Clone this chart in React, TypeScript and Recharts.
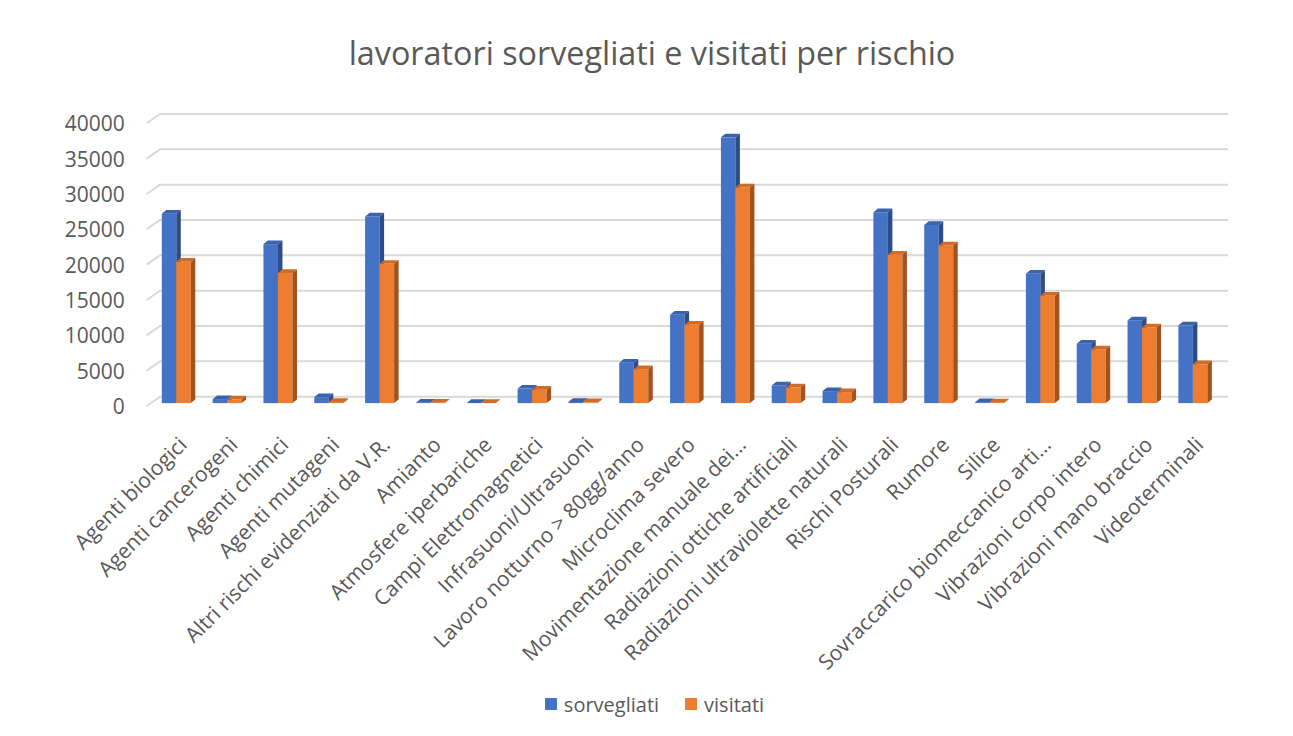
import React from 'react';
import { BarChart, Bar, XAxis, YAxis, CartesianGrid, Legend } from 'recharts';

const categories = [
  'Agenti biologici',
  'Agenti cancerogeni',
  'Agenti chimici',
  'Agenti mutageni',
  'Altri rischi evidenziati da V.R.',
  'Amianto',
  'Atmosfere iperbariche',
  'Campi Elettromagnetici',
  'Infrasuoni/Ultrasuoni',
  'Lavoro notturno > 80gg/anno',
  'Microclima severo',
  'Movimentazione manuale dei…',
  'Radiazioni ottiche artificiali',
  'Radiazioni ultraviolette naturali',
  'Rischi Posturali',
  'Rumore',
  'Silice',
  'Sovraccarico biomeccanico arti…',
  'Vibrazioni corpo intero',
  'Vibrazioni mano braccio',
  'Videoterminali',
];

const sorvegliati = [26800, 560, 22500, 850, 26400, 60, 30, 2050, 150, 5700, 12500, 37600, 2500, 1700, 27000, 25200, 120, 18300, 8400, 11700, 11000];
const visitati = [20000, 500, 18400, 150, 19700, 40, 20, 1900, 110, 4800, 11100, 30500, 2200, 1550, 21000, 22300, 100, 15200, 7600, 10700, 5500];

const yTicks = [0, 5000, 10000, 15000, 20000, 25000, 30000, 35000, 40000];

const data = categories.map((name, i) => ({ name, sorvegliati: sorvegliati[i], visitati: visitati[i] }));

const FONT = '"Open Sans", "Segoe UI", sans-serif';
const TEXT = '#595959';

// depth of the bars' top / side faces
const DX = 4.5;
const DY = 3.7;

const makeShape = (front: string, top: string, side: string) => (props: any) => {
  const { x, y, width, height } = props;
  if (x == null || y == null) return null;
  const h = Math.max(height, 0);
  return (
    <g>
      <rect x={x} y={y} width={width} height={h} fill={front} />
      <polygon points={`${x},${y} ${x + DX},${y - DY} ${x + width + DX},${y - DY} ${x + width},${y}`} fill={top} />
      <polygon points={`${x + width},${y} ${x + width + DX},${y - DY} ${x + width + DX},${y + h - DY} ${x + width},${y + h}`} fill={side} />
    </g>
  );
};

const blueShape = makeShape('#4472C4', '#3A62AD', '#2C4D8A');
const orangeShape = makeShape('#ED7D31', '#D26B26', '#A4521B');

// back-wall gridline with the short diagonal on the left side
const gridLine = (props: any) => {
  const { x1, x2, y1, index } = props;
  return (
    <path
      key={`g-${index}-${y1}`}
      d={`M${x1 - 4.1},${y1 + 2.9} L${x1 + 9.2},${y1 - 6.4} L${x2 + 9.8},${y1 - 6.4}`}
      stroke="#D9D9D9"
      strokeWidth={2}
      fill="none"
    />
  );
};

const XTick = (props: any) => {
  const { x, y, payload } = props;
  const tx = x + 12;
  const ty = y + 43;
  return (
    <text x={tx} y={ty} transform={`rotate(-45, ${tx}, ${ty})`} textAnchor="end" fill={TEXT} fontSize={21} fontFamily={FONT}>
      {payload.value}
    </text>
  );
};

const YTick = (props: any) => {
  const { x, y, payload } = props;
  return (
    <text x={x - 26} y={y + 3} textAnchor="end" dominantBaseline="central" fill={TEXT} fontSize={21} fontFamily={FONT}>
      {payload.value}
    </text>
  );
};

const LegendContent = () => (
  <div style={{ display: 'flex', justifyContent: 'center', alignItems: 'center', height: 30, fontFamily: FONT, fontSize: 20, color: TEXT, paddingLeft: 16 }}>
    <span style={{ width: 12, height: 12, background: '#4472C4', display: 'inline-block', marginRight: 7 }} />
    <span style={{ marginRight: 26 }}>sorvegliati</span>
    <span style={{ width: 12, height: 12, background: '#ED7D31', display: 'inline-block', marginRight: 7 }} />
    <span>visitati</span>
  </div>
);

export default function App() {
  return (
    <div style={{ position: 'relative', width: 1293, height: 736, margin: -8, overflow: 'hidden', background: '#fff' }}>
      <div style={{ position: 'absolute', left: 0, top: 30, width: 1304, textAlign: 'center', fontFamily: FONT, fontSize: 32.3, color: TEXT, lineHeight: '44px' }}>
        lavoratori sorvegliati e visitati per rischio
      </div>
      <div style={{ position: 'absolute', left: 0, top: 0 }}>
        <BarChart
          width={1293}
          height={736}
          data={data}
          barSize={14.5}
          barGap={0}
          margin={{ top: 120.4, right: 74.8, bottom: 52.9, left: 70.8 }}
        >
          <CartesianGrid vertical={false} horizontal={gridLine} />
          <XAxis dataKey="name" interval={0} height={250} tickSize={0} tickMargin={0} axisLine={false} tickLine={false} tick={<XTick />} />
          <YAxis domain={[0, 40000]} ticks={yTicks} width={80} tickSize={0} tickMargin={0} axisLine={false} tickLine={false} tick={<YTick />} />
          <Legend verticalAlign="bottom" content={<LegendContent />} wrapperStyle={{ top: 689, left: 0, width: 1293, height: 30, bottom: undefined }} />
          <Bar dataKey="sorvegliati" name="sorvegliati" fill="#4472C4" shape={blueShape} isAnimationActive={false} />
          <Bar dataKey="visitati" name="visitati" fill="#ED7D31" shape={orangeShape} isAnimationActive={false} />
        </BarChart>
      </div>
      <div style={{ position: 'absolute', zIndex: 5, pointerEvents: 'none', left: 6, top: 4, width: 1284, height: 800, border: '2px solid #D9D9D9', boxSizing: 'border-box' }} />
    </div>
  );
}
